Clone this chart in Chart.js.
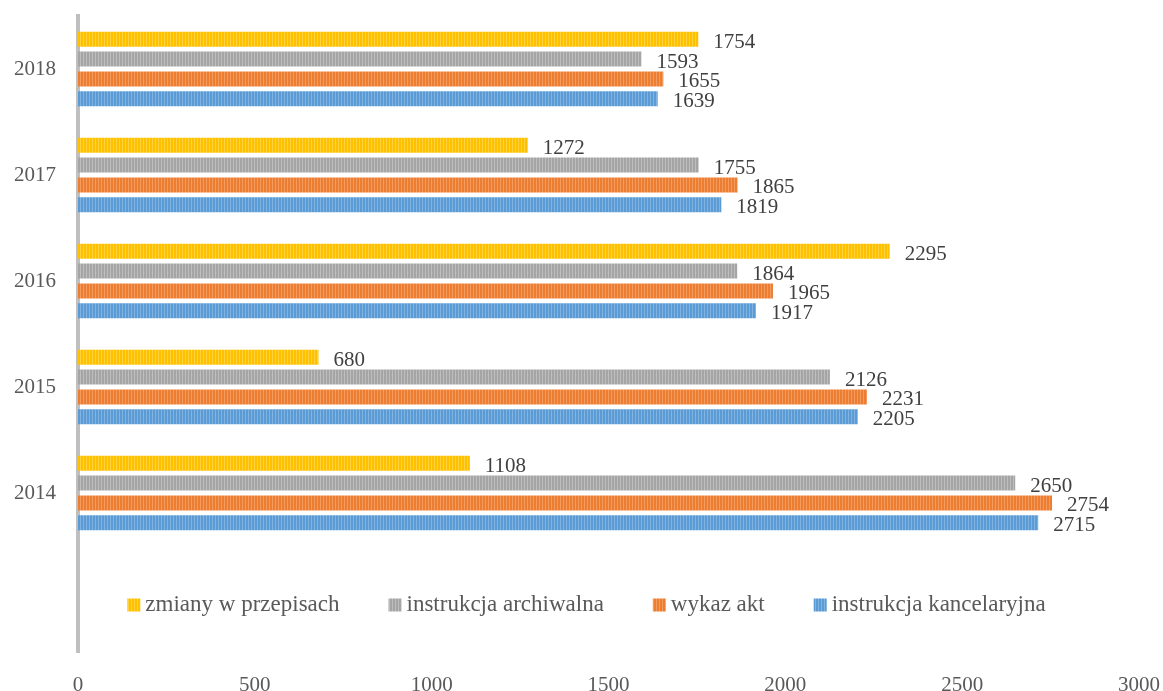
<!DOCTYPE html>
<html>
<head>
<meta charset="utf-8">
<script src="https://cdn.jsdelivr.net/npm/chart.js@4"></script>
<style>
  html, body { margin: 0; padding: 0; background: #fff; }
  #wrap { width: 1163px; height: 691px; }
</style>
</head>
<body>
<div id="wrap"><canvas id="wykres"></canvas></div>
<script>
const lata = ['2018', '2017', '2016', '2015', '2014', ''];
const serie = ['zmiany w przepisach', 'instrukcja archiwalna', 'wykaz akt', 'instrukcja kancelaryjna'];
const zmiany = [1754, 1272, 2295, 680, 1108, null];
const archiwalna = [1593, 1755, 1864, 2126, 2650, null];
const wykaz = [1655, 1865, 1965, 2231, 2754, null];
const kancelaryjna = [1639, 1819, 1917, 2205, 2715, null];
const kolory = ['#FFC000', '#A5A5A5', '#ED7D31', '#5B9BD5'];
const jasne = ['#FFD23F', '#BDBDBD', '#F39A5E', '#81B3E0'];
const xTicks = [0, 500, 1000, 1500, 2000, 2500, 3000];

const FONT = "'Liberation Serif', 'Times New Roman', serif";

// paski w pionowe prążki
function prazki(kolor, jasny) {
  const c = document.createElement('canvas');
  c.width = 3; c.height = 3;
  const g = c.getContext('2d');
  g.fillStyle = kolor; g.fillRect(0, 0, 3, 3);
  g.fillStyle = jasny; g.fillRect(2, 0, 1, 3);
  return g.createPattern(c, 'repeat');
}

const dane = [zmiany, archiwalna, wykaz, kancelaryjna];

const etykiety = {
  id: 'etykiety',
  afterDatasetsDraw(chart) {
    const ctx = chart.ctx;
    ctx.save();
    ctx.font = '21px ' + FONT;
    ctx.fillStyle = '#404040';
    ctx.textAlign = 'left';
    ctx.textBaseline = 'middle';
    chart.data.datasets.forEach((ds, i) => {
      chart.getDatasetMeta(i).data.forEach((bar, j) => {
        if (ds.data[j] == null) return;
        ctx.fillText(String(ds.data[j]), bar.x + 15, bar.y + 3);
      });
    });
    ctx.restore();
  }
};

const legenda = {
  id: 'legenda',
  afterDraw(chart) {
    const ctx = chart.ctx;
    const area = chart.chartArea;
    const y = chart.scales.y.getPixelForValue(5) + 6;
    ctx.save();
    ctx.font = '23px ' + FONT;
    ctx.textBaseline = 'middle';
    const box = 13, odst = 5, przerwa = 49;
    let total = 0;
    serie.forEach((s, i) => {
      total += box + odst + ctx.measureText(s).width;
      if (i < serie.length - 1) total += przerwa;
    });
    let x = (area.left + area.right) / 2 - 22 - total / 2;
    serie.forEach((s, i) => {
      ctx.fillStyle = prazki(kolory[i], jasne[i]);
      ctx.fillRect(x, y - box / 2, box, box);
      x += box + odst;
      ctx.fillStyle = '#595959';
      ctx.fillText(s, x, y);
      x += ctx.measureText(s).width + przerwa;
    });
    ctx.restore();
  }
};

new Chart(document.getElementById('wykres'), {
  type: 'bar',
  data: {
    labels: lata,
    datasets: serie.map((s, i) => ({
      label: s,
      data: dane[i],
      backgroundColor: prazki(kolory[i], jasne[i]),
      borderWidth: 0,
      categoryPercentage: 0.75,
      barPercentage: 0.75
    }))
  },
  options: {
    indexAxis: 'y',
    responsive: true,
    maintainAspectRatio: false,
    animation: false,
    layout: { padding: { top: 16, right: 24, left: 0, bottom: 0 } },
    plugins: {
      legend: { display: false },
      tooltip: { enabled: false }
    },
    scales: {
      x: {
        min: 0,
        max: 3000,
        afterBuildTicks: s => { s.ticks = xTicks.map(v => ({ value: v })); },
        afterFit: s => { s.height = 39; s.paddingLeft = 0; s.paddingRight = 0; },
        grid: { display: false, drawTicks: false },
        border: { display: false },
        ticks: {
          color: '#595959',
          font: { family: FONT, size: 21 },
          padding: 21,
          maxRotation: 0,
          callback: v => String(v)
        }
      },
      y: {
        afterFit: s => { s.width = 78; s.paddingTop = 0; s.paddingBottom = 0; },
        grid: { display: false, drawTicks: false },
        border: { display: true, color: '#BFBFBF', width: 4 },
        ticks: { color: '#595959', font: { family: FONT, size: 21 }, padding: 22 }
      }
    }
  },
  plugins: [etykiety, legenda]
});
</script>
</body>
</html>
